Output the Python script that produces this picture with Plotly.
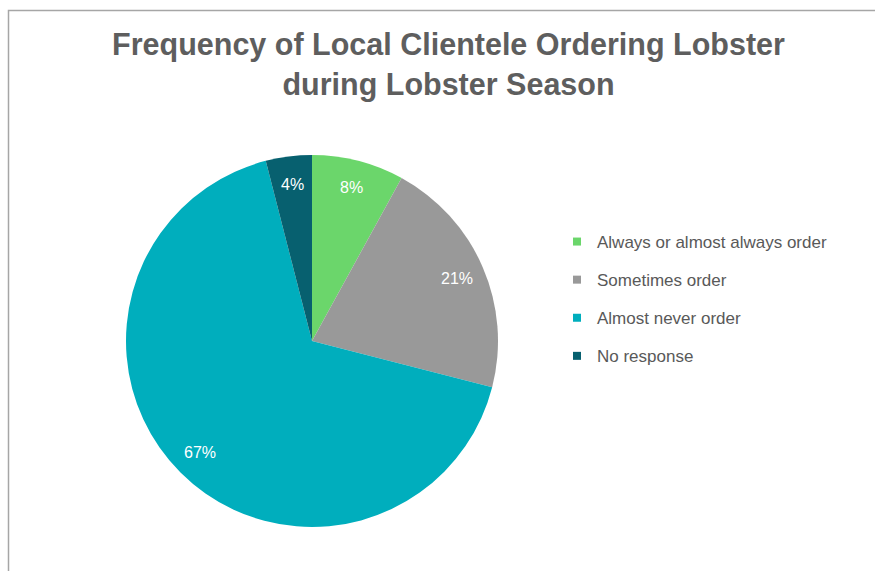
import math
import plotly.graph_objects as go

# Survey responses
categories = ["Always or almost always order", "Sometimes order", "Almost never order", "No response"]
shares = [8, 21, 67, 4]
colors = ["#6BD66B", "#999999", "#00AEBD", "#07606F"]

W, H = 875, 571
cx, cy, r = 312, 341, 186
label_radius = 0.85  # data labels sit at this fraction of the radius

fig = go.Figure()

fig.add_trace(go.Pie(
    labels=categories,
    values=shares,
    sort=False,
    direction="clockwise",
    rotation=0,
    marker=dict(colors=colors, line=dict(width=0)),
    textinfo="none",
    showlegend=False,
    hoverinfo="label+percent",
    domain=dict(x=[(cx - r) / W, (cx + r) / W], y=[1 - (cy + r) / H, 1 - (cy - r) / H]),
))

# Percentage labels placed along each slice's mid-angle
total = sum(shares)
annotations = []
cum = 0
for v in shares:
    mid = (cum + v / 2) / total * 2 * math.pi
    cum += v
    px = cx + label_radius * r * math.sin(mid)
    py = cy - label_radius * r * math.cos(mid)
    annotations.append(dict(
        x=px / W, y=1 - py / H, xref="paper", yref="paper",
        text=f"{round(100 * v / total)}%", showarrow=False,
        xanchor="center", yanchor="middle",
        font=dict(family="Liberation Sans, Arial", size=16, color="white"),
    ))

# Legend entries, one group each so items are spaced apart
for name, col in zip(categories, colors):
    fig.add_trace(go.Scatter(
        x=[None], y=[None], mode="markers", name=name,
        legendgroup=name,
        marker=dict(symbol="square", size=8, color=col),
    ))

fig.update_layout(
    width=W, height=H,
    margin=dict(l=0, r=0, t=0, b=0),
    paper_bgcolor="white",
    plot_bgcolor="white",
    xaxis=dict(visible=False),
    yaxis=dict(visible=False),
    title=dict(
        text="<b>Frequency of Local Clientele Ordering Lobster<br>during Lobster Season</b>",
        x=448.5 / W, xanchor="center",
        y=1 - 55 / H, yanchor="top",
        font=dict(family="Liberation Sans, Arial", size=30.5, color="#5E5E5E"),
    ),
    legend=dict(
        x=557 / W, xanchor="left",
        y=1 - 224 / H, yanchor="top",
        font=dict(family="Liberation Sans, Arial", size=17, color="#595959"),
        tracegroupgap=13,
        bgcolor="rgba(0,0,0,0)",
    ),
    annotations=annotations,
    shapes=[dict(
        type="rect", xref="paper", yref="paper",
        x0=8.5 / W, x1=1.05, y0=-0.05, y1=1 - 10.5 / H,
        line=dict(color="#A6A6A6", width=1.5),
        fillcolor="rgba(0,0,0,0)",
        layer="below",
    )],
)

fig.write_html("out.html")
